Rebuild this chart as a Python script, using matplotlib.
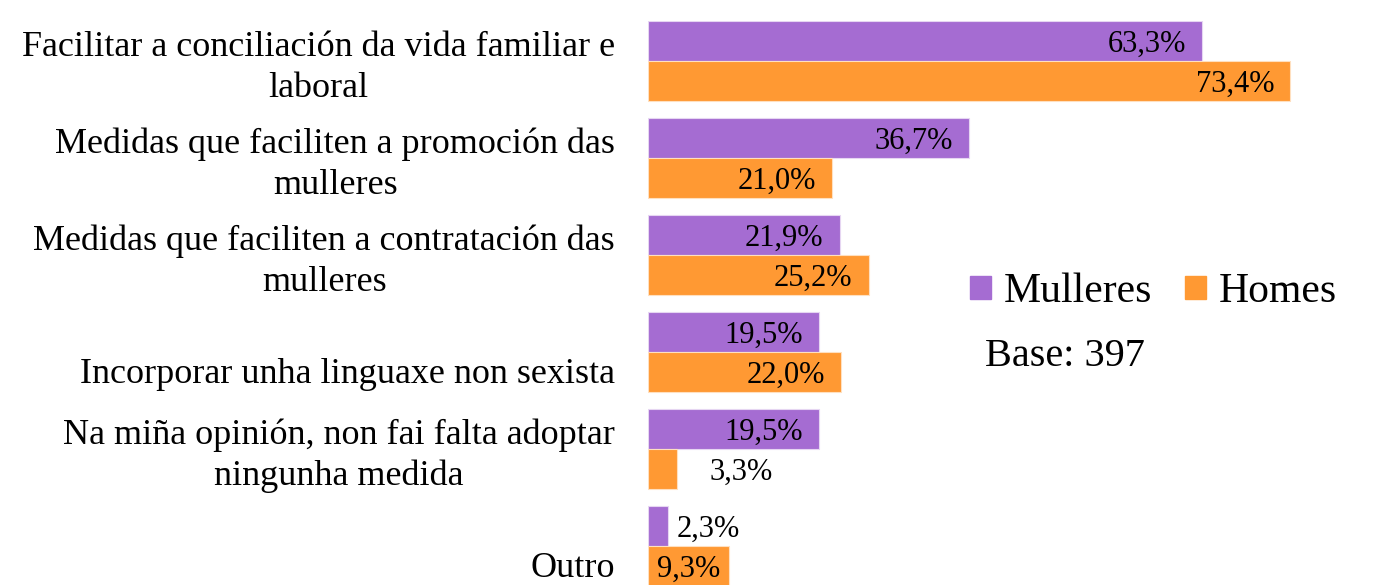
import matplotlib
matplotlib.use("Agg")
import matplotlib.pyplot as plt
import numpy as np
from matplotlib.patches import Patch

categorias = [
    "Facilitar a conciliación da vida familiar e\nlaboral",
    "Medidas que faciliten a promoción das\nmulleres",
    "Medidas que faciliten a contratación das\nmulleres",
    "Incorporar unha linguaxe non sexista",
    "Na miña opinión, non fai falta adoptar\nningunha medida",
    "Outro",
]
mulleres = [63.3, 36.7, 21.9, 19.5, 19.5, 2.3]
homes = [73.4, 21.0, 25.2, 22.0, 3.3, 9.3]
base = 397

morado = "#A56CD2"
laranxa = "#FF9933"
plt.rcParams["font.family"] = ["Liberation Serif", "DejaVu Serif"]

fig = plt.figure(figsize=(13.79, 5.85), dpi=100)
W, H = 1379, 585
ax = fig.add_axes([648 / W, -1 / H, 700 / W, 565 / H])

y = np.arange(len(categorias))
alto = 0.4125
b1 = ax.barh(y - alto / 2, mulleres, height=alto, color=morado,
             edgecolor="#E6D6F2", linewidth=0.8)
b2 = ax.barh(y + alto / 2, homes, height=alto, color=laranxa,
             edgecolor="#FFE0C0", linewidth=0.8)

ax.set_xlim(0, 80)
ax.set_ylim(len(categorias) - 1 + alto, -alto)
ax.axis("off")


def etiqueta(v):
    return f"{v:.1f}%".replace(".", ",")


def poner_etiquetas(barras, valores):
    for rect, v in zip(barras, valores):
        yc = rect.get_y() + rect.get_height() / 2
        if v >= 12:
            ax.annotate(etiqueta(v), (v, yc), xytext=(-16, -3),
                        textcoords="offset pixels", ha="right", va="center",
                        fontsize=22)
        elif v >= 5:
            # non colle dentro con marxe: centrada na barra
            ax.annotate(etiqueta(v), (v / 2, yc), xytext=(0, -3),
                        textcoords="offset pixels", ha="center", va="center",
                        fontsize=22)
        else:
            desp = 33 if v > 3 else 9
            ax.annotate(etiqueta(v), (v, yc), xytext=(desp, -3),
                        textcoords="offset pixels", ha="left", va="center",
                        fontsize=22)


poner_etiquetas(b1, mulleres)
poner_etiquetas(b2, homes)

# etiquetas de categorias (as de unha liña van máis abaixo, como no Excel)
for i, cat in enumerate(categorias):
    dy = 0.07 if "\n" in cat else 0.23
    ax.text(-33 / 8.75, i + dy, cat, ha="right", va="center",
            multialignment="center", fontsize=26, linespacing=1.3)

fig.legend(handles=[Patch(color=morado, label="Mulleres"),
                    Patch(color=laranxa, label="Homes")],
           loc="center left", bbox_to_anchor=(970 / W, 1 - 292 / H),
           ncol=2, frameon=False, fontsize=30, handlelength=0.5,
           handleheight=0.5, handletextpad=0.3, columnspacing=0.8,
           borderpad=0, borderaxespad=0)
fig.text(985 / W, 1 - 357 / H, f"Base: {base}", fontsize=29,
         ha="left", va="center")

fig.savefig("out.png", dpi=100)
